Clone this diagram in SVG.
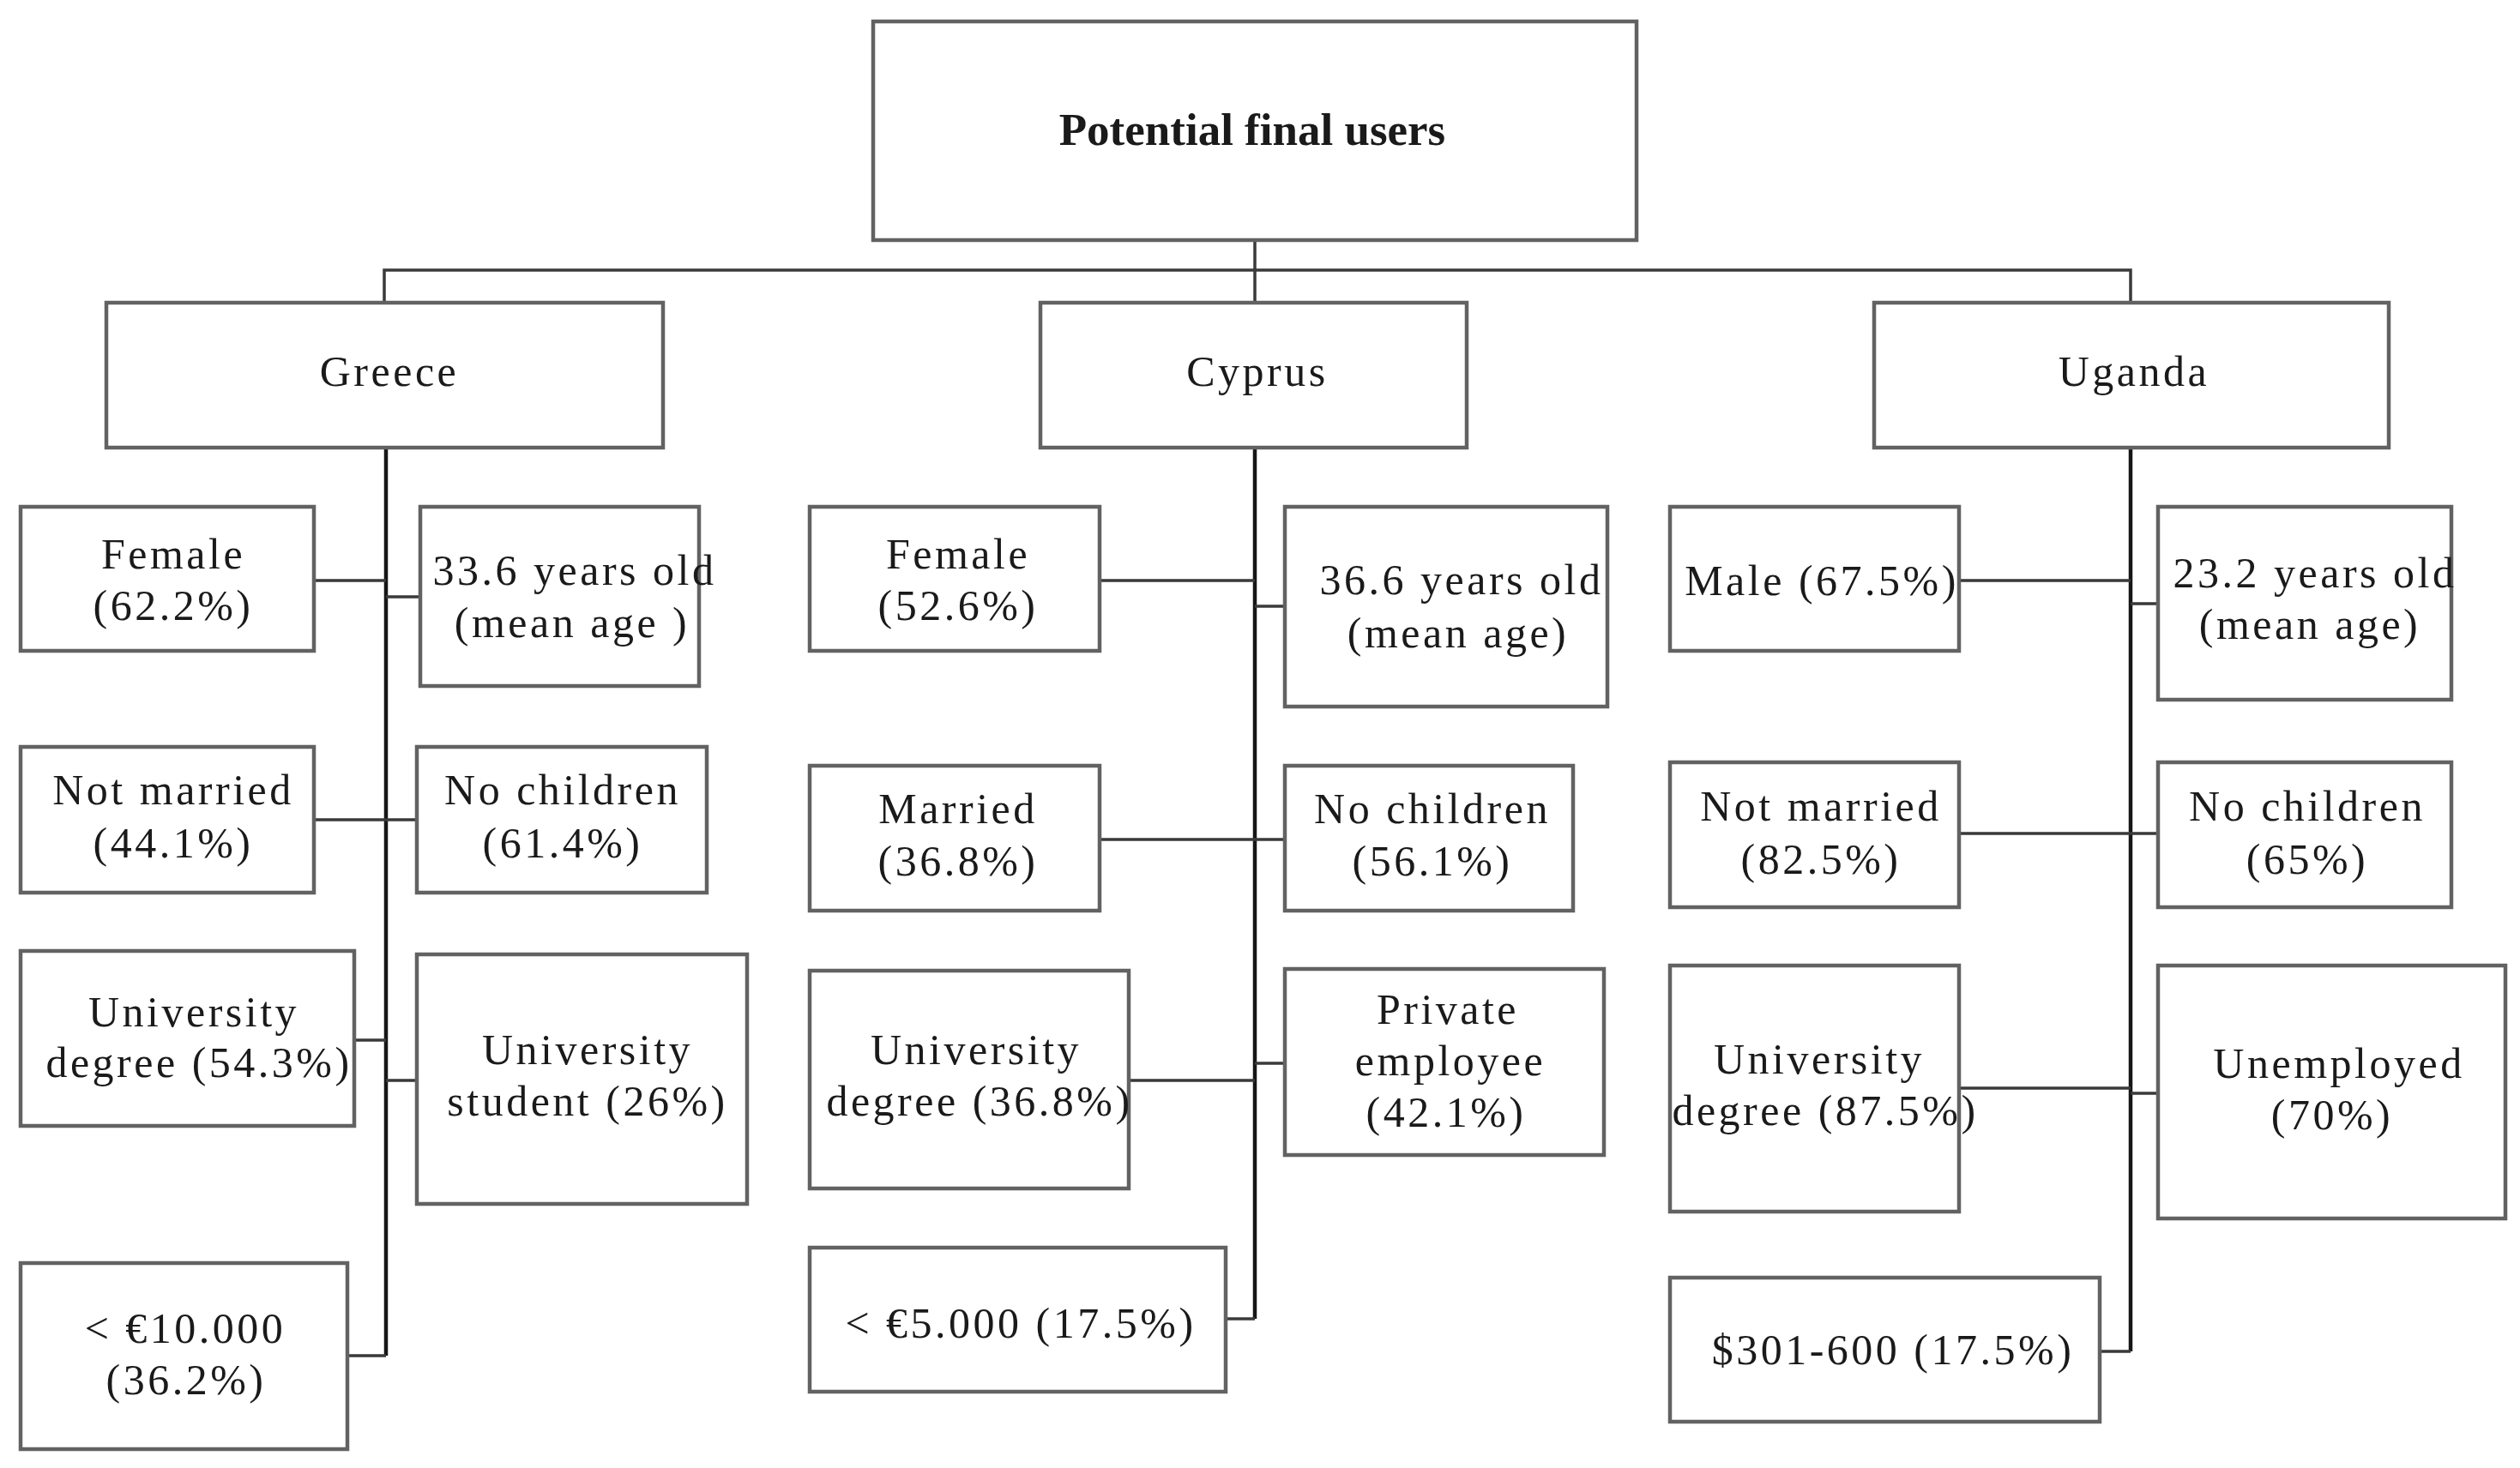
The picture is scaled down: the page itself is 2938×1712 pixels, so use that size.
<svg xmlns="http://www.w3.org/2000/svg" width="2938" height="1712" viewBox="0 0 2938 1712">
<style>
.box{fill:#fff;stroke:#626262;stroke-width:4.5}
.ln{fill:none;stroke:#3a3a3a;stroke-width:3.5}
.trunk{fill:none;stroke:#161616;stroke-width:4.5}
text{font-family:"Liberation Serif","Times New Roman",serif;font-size:50px;fill:#1a1a1a;text-anchor:middle;letter-spacing:3.5px}
.title{font-weight:bold;font-size:53px;letter-spacing:0}
</style>
<rect width="2938" height="1712" fill="#fff"/>
<g id="connectors">
<path class="ln" d="M1463 280V353M448 353V315H2484V353"/>
<path class="trunk" d="M450 522V1581M1463 522V1538M2484 522V1576"/>
<path class="ln" d="M366 677H450M450 696H490M366 956H486M413 1213H450M450 1260H486M405 1581H450"/>
<path class="ln" d="M1282 677H1463M1463 707H1498M1282 979H1498M1316 1260H1463M1463 1240H1498M1429 1538H1463"/>
<path class="ln" d="M2284 677H2484M2484 704H2516M2284 972H2516M2284 1269H2484M2484 1275H2516M2448 1576H2484"/>
</g>
<g id="root"><rect class="box" x="1018" y="25" width="890" height="255"/><text class="title" x="1460" y="169">Potential final users</text></g>
<g id="greece"><rect class="box" x="124" y="353" width="649" height="169"/><text x="454" y="450">Greece</text></g>
<g id="cyprus"><rect class="box" x="1213" y="353" width="497" height="169"/><text x="1466" y="450">Cyprus</text></g>
<g id="uganda"><rect class="box" x="2185" y="353" width="600" height="169"/><text x="2488" y="450">Uganda</text></g>

<g id="gr-female"><rect class="box" x="24" y="591" width="342" height="168"/><text x="202" y="663">Female</text><text x="202" y="723">(62.2%)</text></g>
<g id="gr-age"><rect class="box" x="490" y="591" width="325" height="209"/><text x="670" y="682">33.6 years old</text><text x="667" y="743">(mean age )</text></g>
<g id="gr-married"><rect class="box" x="24" y="871" width="342" height="170"/><text x="202" y="938">Not married</text><text x="202" y="1000">(44.1%)</text></g>
<g id="gr-children"><rect class="box" x="486" y="871" width="338" height="170"/><text x="656" y="938">No children</text><text x="656" y="1000">(61.4%)</text></g>
<g id="gr-degree"><rect class="box" x="24" y="1109" width="389" height="204"/><text x="226" y="1197">University</text><text x="232" y="1256">degree (54.3%)</text></g>
<g id="gr-student"><rect class="box" x="486" y="1113" width="385" height="291"/><text x="685" y="1241">University</text><text x="685" y="1301">student (26%)</text></g>
<g id="gr-income"><rect class="box" x="24" y="1473" width="381" height="217"/><text x="216" y="1566">&lt; €10.000</text><text x="217" y="1626">(36.2%)</text></g>

<g id="cy-female"><rect class="box" x="944" y="591" width="338" height="168"/><text x="1117" y="663">Female</text><text x="1117" y="723">(52.6%)</text></g>
<g id="cy-age"><rect class="box" x="1498" y="591" width="376" height="233"/><text x="1704" y="693">36.6 years old</text><text x="1700" y="755">(mean age)</text></g>
<g id="cy-married"><rect class="box" x="944" y="893" width="338" height="169"/><text x="1117" y="960">Married</text><text x="1117" y="1021">(36.8%)</text></g>
<g id="cy-children"><rect class="box" x="1498" y="893" width="336" height="169"/><text x="1670" y="960">No children</text><text x="1670" y="1021">(56.1%)</text></g>
<g id="cy-degree"><rect class="box" x="944" y="1132" width="372" height="254"/><text x="1138" y="1241">University</text><text x="1142" y="1301">degree (36.8%)</text></g>
<g id="cy-job"><rect class="box" x="1498" y="1130" width="372" height="217"/><text x="1688" y="1194">Private</text><text x="1691" y="1254">employee</text><text x="1686" y="1314">(42.1%)</text></g>
<g id="cy-income"><rect class="box" x="944" y="1455" width="485" height="168"/><text x="1190" y="1560">&lt; €5.000 (17.5%)</text></g>

<g id="ug-male"><rect class="box" x="1947" y="591" width="337" height="168"/><text x="2124" y="694">Male (67.5%)</text></g>
<g id="ug-age"><rect class="box" x="2516" y="591" width="342" height="225"/><text x="2699" y="685">23.2 years old</text><text x="2693" y="745">(mean age)</text></g>
<g id="ug-married"><rect class="box" x="1947" y="889" width="337" height="169"/><text x="2123" y="957">Not married</text><text x="2123" y="1019">(82.5%)</text></g>
<g id="ug-children"><rect class="box" x="2516" y="889" width="342" height="169"/><text x="2690" y="957">No children</text><text x="2690" y="1019">(65%)</text></g>
<g id="ug-degree"><rect class="box" x="1947" y="1126" width="337" height="287"/><text x="2121" y="1252">University</text><text x="2128" y="1312">degree (87.5%)</text></g>
<g id="ug-job"><rect class="box" x="2516" y="1126" width="405" height="295"/><text x="2727" y="1257">Unemployed</text><text x="2719" y="1317">(70%)</text></g>
<g id="ug-income"><rect class="box" x="1947" y="1490" width="501" height="168"/><text x="2207" y="1591">$301-600 (17.5%)</text></g>
</svg>
